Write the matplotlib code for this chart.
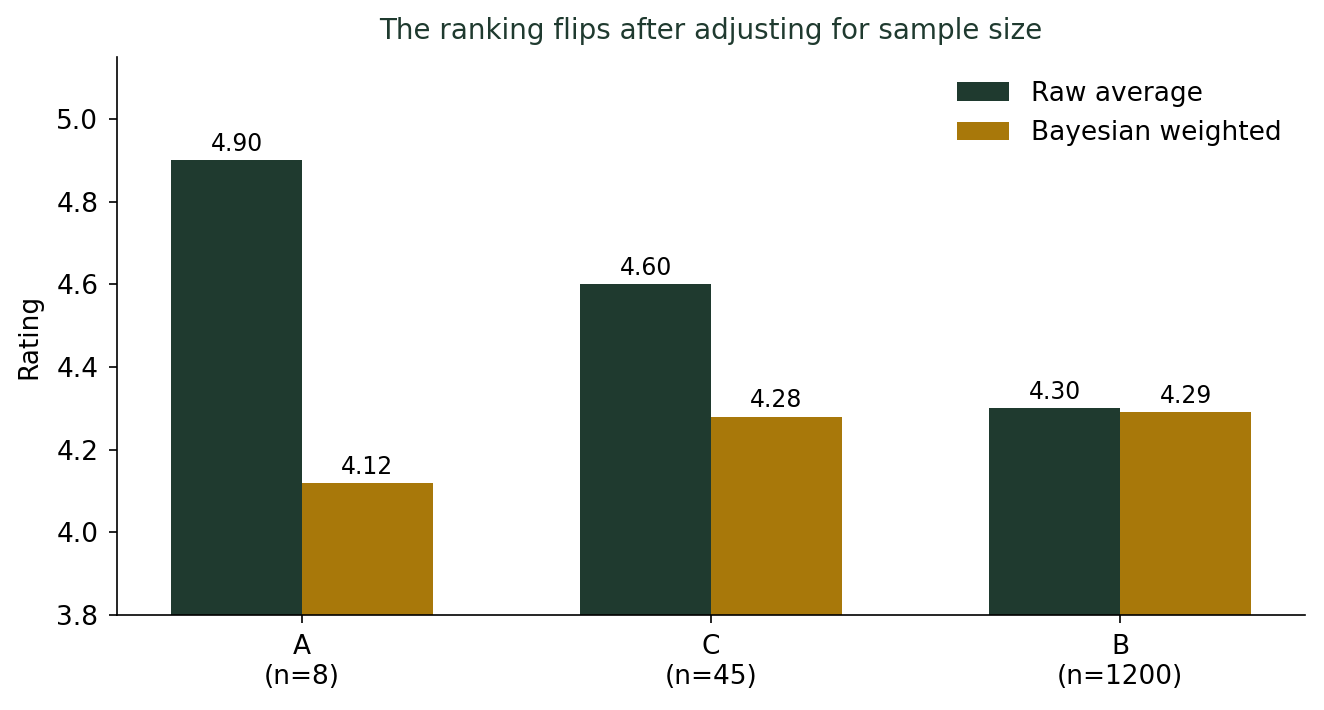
import numpy as np
import matplotlib
matplotlib.use("Agg")
from matplotlib import pyplot as plt

# datos
groups = ["A\n(n=8)", "C\n(n=45)", "B\n(n=1200)"]
raw_avg = [4.90, 4.60, 4.30]
bayes_avg = [4.12, 4.28, 4.29]

DARK = "#1f3a2f"
GOLD = "#a8780a"

fig = plt.figure(figsize=(1324 / 150, 710 / 150), dpi=150)
ax = fig.add_axes([0.0884, 0.1338, 0.8973, 0.7859])

x = np.arange(len(groups))
w = 0.32
b1 = ax.bar(x - w / 2, raw_avg, w, color=DARK, label="Raw average")
b2 = ax.bar(x + w / 2, bayes_avg, w, color=GOLD, label="Bayesian weighted")

for bars in (b1, b2):
    ax.bar_label(bars, fmt="%.2f", padding=2, fontsize=11.3)

ax.set_ylim(3.8, 5.15)
ax.set_xticks(x)
ax.set_xticklabels(groups, fontsize=12.7)
ax.tick_params(axis="both", labelsize=12.7, pad=5, length=4)
ax.set_ylabel("Rating", fontsize=12.7, labelpad=6.5)
ax.set_title("The ranking flips after adjusting for sample size",
             color=DARK, fontsize=13.3, pad=8.5)
ax.spines["top"].set_visible(False)
ax.spines["right"].set_visible(False)
ax.legend(frameon=False, fontsize=12.7)

fig.savefig("out.png", dpi=150)
